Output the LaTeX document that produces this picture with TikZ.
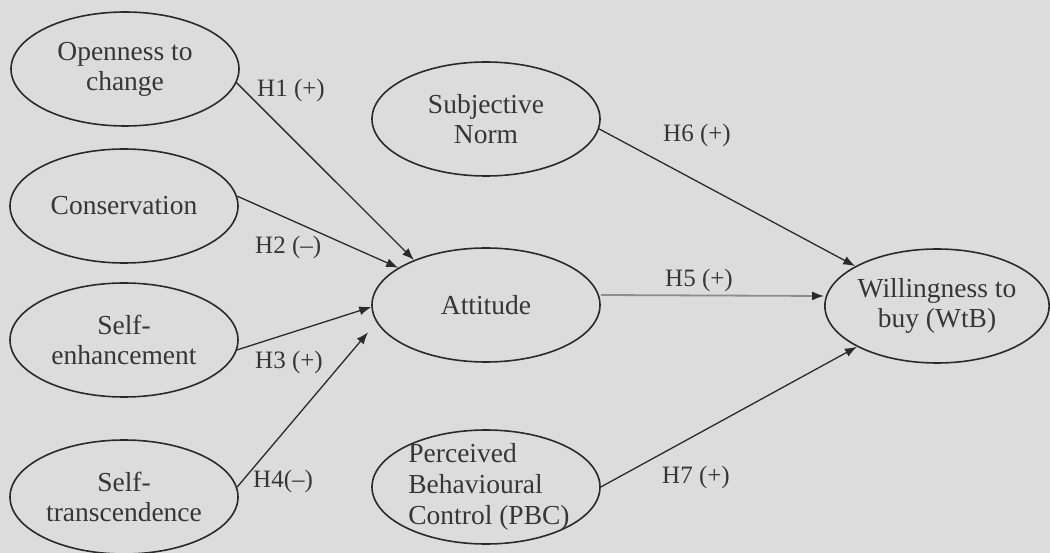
\documentclass[tikz,border=0pt]{standalone}
\usepackage{fontspec}
\setmainfont{Liberation Serif}
\usetikzlibrary{shapes.geometric,arrows.meta}
\definecolor{bg}{HTML}{DCDCDC}
\definecolor{ink}{HTML}{2A2A2A}
\definecolor{txt}{HTML}{363636}
\definecolor{hfive}{HTML}{8C8C8C}
\begin{document}
\begin{tikzpicture}[x=1pt,y=1pt,
  construct/.style={ellipse, draw=ink, line width=1.6pt, minimum width=228pt, minimum height=114pt,
    inner sep=0pt, align=center, text=txt, font=\fontsize{27.5}{30}\selectfont},
  pbcfont/.style={text=txt, align=left, inner sep=0pt, font=\fontsize{27.5}{31}\selectfont},
  hlabel/.style={text=txt, inner sep=0pt, anchor=west, font=\fontsize{25}{28}\selectfont},
  hyp/.style={draw=ink, line width=1.3pt, -{Latex[length=12pt,width=9pt]}},
  hypgray/.style={draw=hfive, line width=1.8pt, -{Latex[length=12pt,width=9pt,color=ink]}}
]
\fill[bg] (0,0) rectangle (1050,-553);
\useasboundingbox (0,0) rectangle (1050,-553);

% constructs
\node[construct] (open) at (125,-69) {Openness to\\change};
\node[construct] (cons) at (124,-206) {Conservation};
\node[construct] (senh) at (124,-340) {Self-\\enhancement};
\node[construct] (stra) at (124,-497) {Self-\\transcendence};
\node[construct] (sn) at (486,-119) {Subjective\\Norm};
\node[construct] (att) at (486,-305) {Attitude};
\node[construct] (pbc) at (486,-487) {};
\node[pbcfont] (pbctext) at (489,-487) {Perceived\\Behavioural\\Control (PBC)};
\node[construct, minimum width=224pt] (wtb) at (937,-306) {Willingness to\\buy (WtB)};

% connectors
\draw[hyp] (open.353) -- (att.148);
\draw[hyp] (cons.5) -- (att.157);
\draw[hyp] (senh.-5) -- (att.181);
\draw[hyp, shorten >=13pt] (stra.5) -- (att.189);
\draw[hyp] (sn.-5.5) -- (wtb.154);
\draw[hypgray] ([yshift=10pt]att.east) -- ([yshift=10pt]wtb.west);
\draw[hyp] (pbc.0) -- (wtb.207);

% labels
\node[hlabel] (l1) at (257,-90) {H1 (+)};
\node[hlabel] (l2) at (255,-247) {H2 (\textendash)};
\node[hlabel] (l3) at (255,-362) {H3 (+)};
\node[hlabel] (l4) at (253,-481) {H4(\textendash)};
\node[hlabel] (l5) at (665,-280) {H5 (+)};
\node[hlabel] (l6) at (663,-135) {H6 (+)};
\node[hlabel] (l7) at (662,-477) {H7 (+)};
\end{tikzpicture}
\end{document}
